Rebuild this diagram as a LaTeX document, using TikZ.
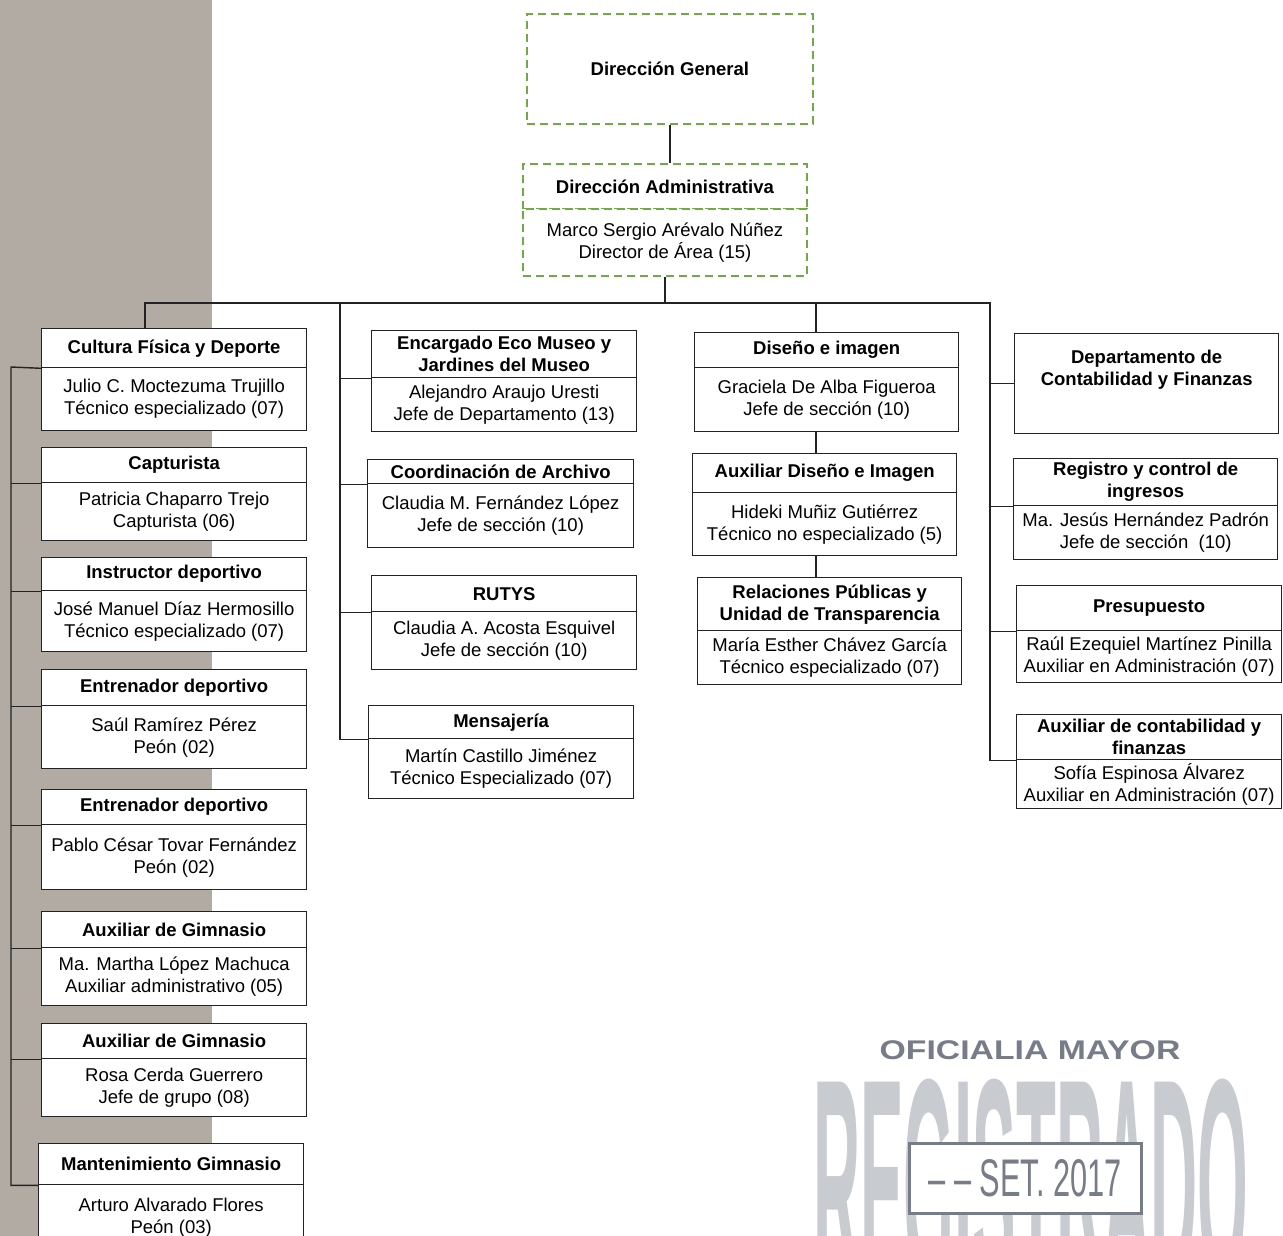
\documentclass[tikz,border=0pt]{standalone}
\usepackage{fontspec}
\setmainfont{Liberation Sans}
\definecolor{verde}{RGB}{112,170,66}
\definecolor{linea}{RGB}{35,35,35}
\definecolor{fondo}{RGB}{177,171,164}
\definecolor{tinta}{RGB}{118,124,136}
\tikzset{base/.style={fill=white, draw=linea, line width=1.3pt, inner sep=0pt,
  align=center, anchor=north west, font=\fontsize{18.5}{22}\selectfont}}
\tikzset{cargo/.style={base, font=\fontsize{18.5}{22}\selectfont\bfseries}}
\tikzset{persona/.style={base}}
\tikzset{direccion/.style={cargo, draw=verde, line width=1.8pt, dash pattern=on 8pt off 5pt}}
\tikzset{enlace/.style={draw=linea, line width=1.4pt}}

\begin{document}
\begin{tikzpicture}[x=1pt, y=-1pt]
      \useasboundingbox (0,0) rectangle (1283,1236);
      \clip (0,0) rectangle (1283,1236);
      \fill [fondo] (0,0) rectangle (212,1236);

      \node [direccion, minimum width=286pt, minimum height=110pt] (dg) at (526,13) {Dirección General};
      \node [direccion, minimum width=284pt, minimum height=45pt] (da) at (522,163) {Dirección Administrativa};
      \node [direccion, font=\fontsize{18.5}{22}\selectfont, minimum width=284pt, minimum height=67pt] (dab) at (522,208) {Marco Sergio Arévalo Núñez\\Director de Área (15)};

      % deporte
      \node [cargo, minimum width=265pt, minimum height=39pt] (cfd) at (41,328) {Cultura Física y Deporte};
      \node [persona, minimum width=265pt, minimum height=63pt] (cfdb) at (41,367) {Julio C. Moctezuma Trujillo\\Técnico especializado (07)};
      \node [cargo, minimum width=265pt, minimum height=35pt] (cap) at (41,447) {Capturista};
      \node [persona, minimum width=265pt, minimum height=58pt] (capb) at (41,482) {Patricia Chaparro Trejo\\Capturista (06)};
      \node [cargo, minimum width=265pt, minimum height=33pt] (ide) at (41,557) {Instructor deportivo};
      \node [persona, minimum width=265pt, minimum height=61pt] (ideb) at (41,590) {José Manuel Díaz Hermosillo\\Técnico especializado (07)};
      \node [cargo, minimum width=265pt, minimum height=36pt] (ed1) at (41,669) {Entrenador deportivo};
      \node [persona, minimum width=265pt, minimum height=63pt] (ed1b) at (41,705) {Saúl Ramírez Pérez\\Peón (02)};
      \node [cargo, minimum width=265pt, minimum height=35pt] (ed2) at (41,789) {Entrenador deportivo};
      \node [persona, minimum width=265pt, minimum height=65pt] (ed2b) at (41,824) {Pablo César Tovar Fernández\\Peón (02)};
      \node [cargo, minimum width=265pt, minimum height=36pt] (ag1) at (41,911) {Auxiliar de Gimnasio};
      \node [persona, minimum width=265pt, minimum height=58pt] (ag1b) at (41,947) {Ma. Martha López Machuca\\Auxiliar administrativo (05)};
      \node [cargo, minimum width=265pt, minimum height=35pt] (ag2) at (41,1023) {Auxiliar de Gimnasio};
      \node [persona, minimum width=265pt, minimum height=58pt] (ag2b) at (41,1058) {Rosa Cerda Guerrero\\Jefe de grupo (08)};
      \node [cargo, minimum width=265pt, minimum height=41pt] (mgi) at (38,1143) {Mantenimiento Gimnasio};
      \node [persona, minimum width=265pt, minimum height=66pt] (mgib) at (38,1184) {Arturo Alvarado Flores\\Peón (03)};

      % museo y archivo
      \node [cargo, minimum width=265pt, minimum height=47pt] (enc) at (371,330) {Encargado Eco Museo y\\Jardines del Museo};
      \node [persona, minimum width=265pt, minimum height=54pt] (encb) at (371,377) {Alejandro Araujo Uresti\\Jefe de Departamento (13)};
      \node [cargo, minimum width=266pt, minimum height=24pt] (coa) at (367,459) {Coordinación de Archivo};
      \node [persona, minimum width=266pt, minimum height=64pt] (coab) at (367,483) {Claudia M. Fernández López\\Jefe de sección (10)};
      \node [cargo, minimum width=265pt, minimum height=36pt] (rut) at (371,575) {RUTYS};
      \node [persona, minimum width=265pt, minimum height=58pt] (rutb) at (371,611) {Claudia A. Acosta Esquivel\\Jefe de sección (10)};
      \node [cargo, minimum width=265pt, minimum height=33pt] (men) at (368,705) {Mensajería};
      \node [persona, minimum width=265pt, minimum height=60pt] (menb) at (368,738) {Martín Castillo Jiménez\\Técnico Especializado (07)};

      % imagen
      \node [cargo, minimum width=264pt, minimum height=35pt] (dis) at (694,332) {Diseño e imagen};
      \node [persona, minimum width=264pt, minimum height=64pt] (disb) at (694,367) {Graciela De Alba Figueroa\\Jefe de sección (10)};
      \node [cargo, minimum width=264pt, minimum height=39pt] (adi) at (692,453) {Auxiliar Diseño e Imagen};
      \node [persona, minimum width=264pt, minimum height=63pt] (adib) at (692,492) {Hideki Muñiz Gutiérrez\\Técnico no especializado (5)};
      \node [cargo, minimum width=264pt, minimum height=53pt] (rpt) at (697,577) {Relaciones Públicas y\\Unidad de Transparencia};
      \node [persona, minimum width=264pt, minimum height=54pt] (rptb) at (697,630) {María Esther Chávez García\\Técnico especializado (07)};

      % contabilidad
      \node [cargo, minimum width=264pt, minimum height=100pt] (dcf) at (1014,333) {};
      \node [font=\fontsize{18.5}{22}\selectfont\bfseries, align=center, inner sep=0pt, anchor=north] (dcft) at ([yshift=-17pt]dcf.north) {Departamento de\\Contabilidad y Finanzas};
      \node [cargo, minimum width=264pt, minimum height=47pt] (reg) at (1013,458) {Registro y control de\\ingresos};
      \node [persona, minimum width=264pt, minimum height=54pt] (regb) at (1013,505) {Ma. Jesús Hernández Padrón\\Jefe de sección~~(10)};
      \node [cargo, minimum width=265pt, minimum height=45pt] (pre) at (1016,585) {Presupuesto};
      \node [persona, minimum width=265pt, minimum height=52pt] (preb) at (1016,630) {Raúl Ezequiel Martínez Pinilla\\Auxiliar en Administración (07)};
      \node [cargo, minimum width=265pt, minimum height=45pt] (acf) at (1016,714) {Auxiliar de contabilidad y\\finanzas};
      \node [persona, minimum width=265pt, minimum height=49pt] (acfb) at (1016,759) {Sofía Espinosa Álvarez\\Auxiliar en Administración (07)};

      \coordinate (b1) at (145,303);
      \coordinate (b2) at (340,303);
      \coordinate (b3) at (816,303);
      \coordinate (b4) at (990,303);
      \coordinate (c1) at (11,367);

      \draw [enlace] (dg.south) -- (dg.south |- da.north);
      \draw [enlace] (dab.south) -- (dab.south |- b1);
      \draw [enlace] (b1 |- cfd.north) -- (b1) -- (b4) -- (b4 |- acf.south west) -- (acf.south west);
      \draw [enlace] (b2) -- (b2 |- men.south west) -- (men.south west);
      \draw [enlace] (b3) -- (b3 |- dis.north);
      \draw [enlace] (b3 |- disb.south) -- (b3 |- adi.north);
      \draw [enlace] (b3 |- adib.south) -- (b3 |- rpt.north);
      \draw [enlace] (cfd.south west) -- (c1) -- (c1 |- mgi.south west) -- (mgi.south west);
      \foreach \n in {cap,ide,ed1,ed2,ag1,ag2}
        \draw [enlace] (c1 |- \n.south west) -- (\n.south west);
      \foreach \n in {enc,coa,rut}
        \draw [enlace] (b2 |- \n.south west) -- (\n.south west);
      \draw [enlace] (b4 |- dcf.west) -- (dcf.west);
      \foreach \n in {reg,pre}
        \draw [enlace] (b4 |- \n.south west) -- (\n.south west);

      % sello
      \node [text=tinta, inner sep=0pt] (oficialia) at (1030,1050) {\scalebox{1.25}[1]{\fontsize{27}{27}\selectfont\bfseries OFICIALIA MAYOR}};
      \node [anchor=base west, inner sep=0pt, text=tinta!40] (registrado) at (813,1288) {\scalebox{0.2175}[1]{\fontsize{300}{300}\selectfont\bfseries REGISTRADO}};
      \node [draw=tinta, line width=3pt, fill=white, minimum width=232pt, minimum height=70pt, inner sep=0pt, text=tinta] (fecha) at (1025,1178) {\scalebox{0.58}[1]{\fontsize{53}{53}\selectfont – – SET.\ 2017}};
    \end{tikzpicture}
\end{document}
